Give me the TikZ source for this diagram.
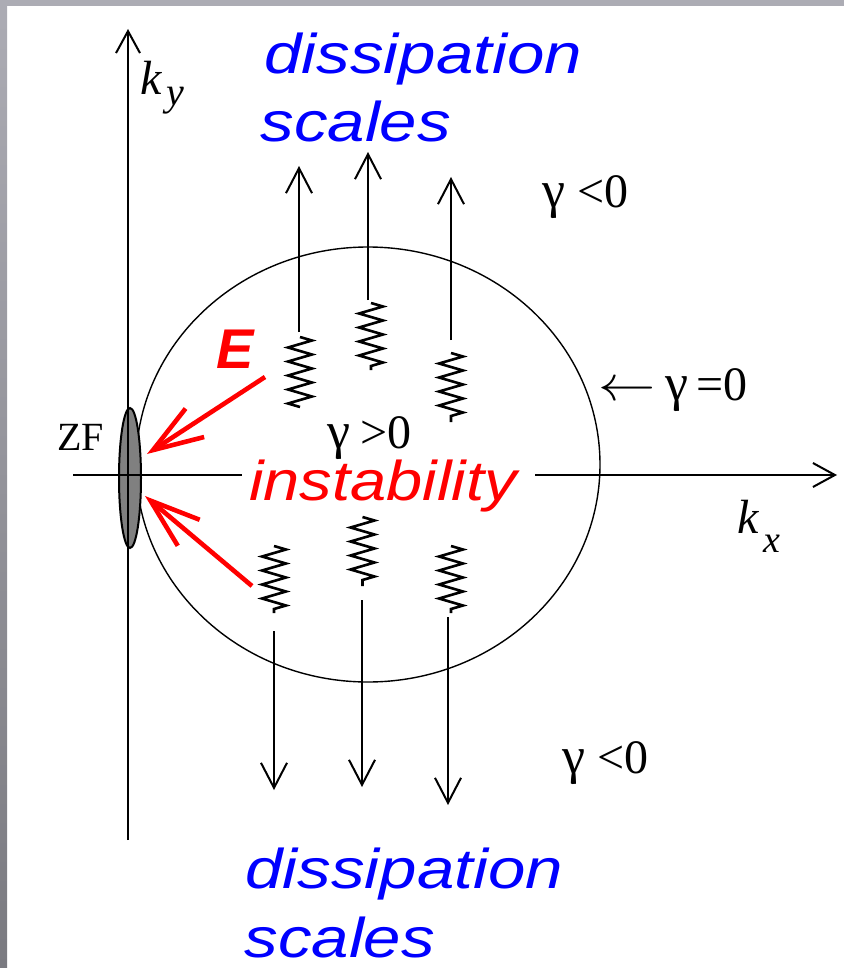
\documentclass[tikz,border=0pt]{standalone}
\usepackage{fontspec}
\setmainfont{Liberation Serif}
\setsansfont{Liberation Sans}
\usetikzlibrary{arrows.meta,decorations.pathmorphing}

\newcommand{\gam}{{\fontsize{26}{30}\selectfont γ}}

\begin{document}
\begin{tikzpicture}[
	x=0.5pt, y=-0.5pt,
	axis/.style={line width=1pt, -{Straight Barb[length=11pt,width=12pt]}},
	flow/.style={line width=1pt, -{Straight Barb[length=12.5pt,width=13pt]}},
	push/.style={line width=2.3pt, draw=red, -{Straight Barb[length=25pt,width=17pt]}},
	wave/.style={line width=1.3pt, decorate, decoration={zigzag, segment length=7pt, amplitude=6pt}},
	lbl/.style={inner sep=0pt, anchor=base west, font=\fontsize{24}{28}\selectfont},
	scalelbl/.style={inner sep=0pt, anchor=base west, xscale=1.2, text=blue, font=\sffamily\itshape\fontsize{28}{32}\selectfont}
	]
	% Define colors
	\definecolor{framegray}{RGB}{172,172,180}   % frame top
	\definecolor{framedark}{RGB}{122,122,128}   % frame bottom
	\definecolor{zfgray}{RGB}{128,128,128}      % zonal flow
	
	\useasboundingbox (0,0) rectangle (844,968);
	
	% Frame
	\fill[framegray] (0,0) rectangle (844,6);
	\shade[top color=framegray, bottom color=framedark] (0,0) rectangle (7,968);
	
	% Marginal curve gamma = 0
	\draw[line width=0.7pt] (368,464.5) ellipse [x radius=232, y radius=217.5];
	
	% Zonal flow
	\draw[line width=1pt, fill=zfgray] (130,478) ellipse [x radius=11, y radius=70];
	
	% Axes
	\coordinate (kxStart) at (73,475);
	\coordinate (kxEnd) at (837,475);
	\coordinate (kyStart) at (128,840);
	\coordinate (kyEnd) at (128,29);
	\draw[axis] (kxStart) -- (kxEnd);
	\draw[axis] (kyStart) -- (kyEnd);
	
	% Axis labels
	\node[lbl, font=\fontsize{24}{28}\selectfont] (ky) at (140,95) {\textit{k}\kern2pt\raisebox{-5.5pt}{\fontsize{20}{24}\selectfont\textit{y}}};
	\node[lbl, font=\fontsize{24}{28}\selectfont] (kx) at (737,533) {\textit{k}\kern2pt\raisebox{-9.5pt}{\fontsize{19}{22}\selectfont\textit{x}}};
	\node[lbl, font=\fontsize{20}{24}\selectfont] (zf) at (57,450) {ZF};
	
	% Drift waves, upper half
	\draw[wave] (300,337) -- (300,407);
	\draw[wave] (371,303) -- (371,370);
	\draw[wave] (451,353) -- (451,422);
	% Drift waves, lower half
	\draw[wave] (274,546) -- (274,613);
	\draw[wave] (362.5,517) -- (362.5,586);
	\draw[wave] (451,546) -- (451,613);
	
	% Transfer to dissipation scales
	\coordinate (upA) at (299,332);   \coordinate (upAEnd) at (299,166);
	\coordinate (upB) at (368,300);   \coordinate (upBEnd) at (368,152);
	\coordinate (upC) at (451,340);   \coordinate (upCEnd) at (451,177);
	\coordinate (downA) at (274,631); \coordinate (downAEnd) at (274,790);
	\coordinate (downB) at (362,600); \coordinate (downBEnd) at (362,787);
	\coordinate (downC) at (448,617); \coordinate (downCEnd) at (448,805);
	\draw[flow] (upA) -- (upAEnd);
	\draw[flow] (upB) -- (upBEnd);
	\draw[flow] (upC) -- (upCEnd);
	\draw[flow] (downA) -- (downAEnd);
	\draw[flow] (downB) -- (downBEnd);
	\draw[flow] (downC) -- (downCEnd);
	
	% Energy transfer to zonal flow
	\coordinate (pushTop) at (265,377);
	\coordinate (zfTop) at (147,454);
	\coordinate (pushBottom) at (252,586);
	\coordinate (zfBottom) at (145,496);
	\draw[push] (pushTop) -- (zfTop);
	\draw[push] (pushBottom) -- (zfBottom);
	\node[lbl, text=red, font=\sffamily\bfseries\itshape\fontsize{28}{32}\selectfont] (E) at (216,368) {E};
	
	% Instability region
	\node[fill=white, inner xsep=3pt, inner ysep=0pt, anchor=base west, xscale=1.16, text=red, font=\sffamily\itshape\fontsize{28}{32}\selectfont] (inst) at (242,500) {instability\kern5pt};
	
	% Growth rate labels
	\node[lbl] (gTop) at (542,208) {\gam\hspace{6pt}<0};
	\node[lbl] (gBottom) at (562,773) {\gam\hspace{6pt}<0};
	\node[lbl] (gZero) at (598,400) {\scalebox{1.15}[1]{$\leftarrow$}\hspace{5pt}\gam\hspace{4pt}=0};
	\node[lbl] (gPos) at (327,448) {\gam\hspace{5pt}>0};
	
	% Dissipation scales
	\node[scalelbl] (dissTop) at (264,74) {dissipation};
	\node[scalelbl] (scalesTop) at (260,142) {scales};
	\node[scalelbl] (dissBottom) at (245,888) {dissipation};
	\node[scalelbl] (scalesBottom) at (244,957) {scales};
\end{tikzpicture}
\end{document}
